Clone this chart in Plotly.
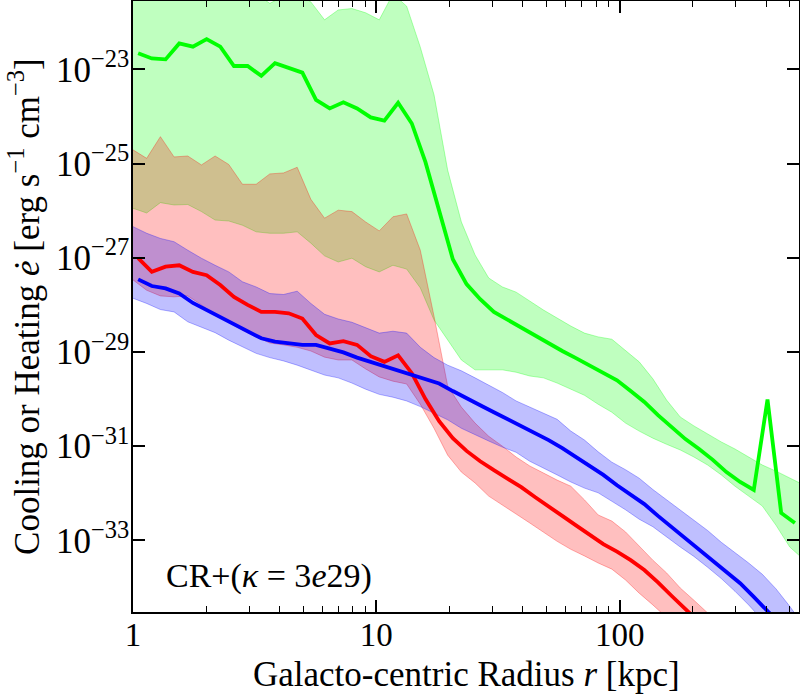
import plotly.graph_objects as go

# radial bins [kpc]: profile lines sit at bin centres, shaded bands at bin edges
r_line = [1.05, 1.195, 1.361, 1.549, 1.763, 2.007, 2.284, 2.599, 2.958, 3.367,
          3.833, 4.363, 4.965, 5.651, 6.432, 7.322, 8.334, 9.486, 10.79, 12.29,
          13.99, 15.92, 18.12, 20.62, 23.48, 26.72, 30.41, 34.62, 39.41, 44.85,
          51.05, 58.11, 66.14, 75.27, 85.68, 97.52, 111.0, 126.3, 143.7, 163.7,
          186.3, 212.0, 241.4, 274.7, 312.7, 355.8, 405.1, 461.2, 525.0]
r_band = [1.000, 1.138, 1.296, 1.475, 1.679, 1.911, 2.175, 2.475, 2.817, 3.207,
          3.650, 4.155, 4.729, 5.382, 6.126, 6.973, 7.937, 9.034, 10.28, 11.70,
          13.32, 15.16, 17.26, 19.64, 22.36, 25.45, 28.96, 32.97, 37.53, 42.71,
          48.62, 55.34, 62.99, 71.69, 81.60, 92.88, 105.7, 120.3, 136.9, 155.9,
          177.4, 201.9, 229.9, 261.6, 297.8, 338.9, 385.8, 439.2, 500.0, 569.0]

# log10 of e-dot [erg s^-1 cm^-3]
green_mid = [-22.66, -22.77, -22.79, -22.45, -22.52, -22.36, -22.52, -22.93, -22.93, -23.14,
             -22.87, -22.98, -23.07, -23.65, -23.83, -23.70, -23.83, -24.02, -24.09, -23.71,
             -24.15, -24.97, -26.03, -27.03, -27.56, -27.88, -28.15, -28.32, -28.48, -28.64,
             -28.83, -28.98, -29.13, -29.28, -29.43, -29.60, -29.83, -30.06, -30.34, -30.59,
             -30.85, -31.06, -31.29, -31.55, -31.76, -31.93, -30.01, -32.42, -32.63]
green_hi = [-21.0, -21.1, -20.9, -21.0, -21.0, -20.9, -21.1, -21.2, -21.3, -21.4,
            -21.60, -21.45, -21.40, -21.57, -21.95, -21.74, -21.71, -21.80, -21.95, -21.40,
            -21.66, -22.53, -23.54, -25.14, -26.24, -26.94, -27.43, -27.62, -27.73, -27.92,
            -28.11, -28.28, -28.45, -28.60, -28.68, -28.73, -28.96, -29.21, -29.57, -30.02,
            -30.38, -30.57, -30.74, -30.91, -31.06, -31.23, -31.40, -31.53, -31.68, -31.82]
green_lo = [-25.95, -26.05, -25.83, -25.88, -25.87, -26.02, -26.20, -26.22, -26.31, -26.45,
            -26.48, -26.48, -26.45, -26.69, -26.96, -27.09, -27.01, -27.19, -27.30, -27.16,
            -27.24, -27.64, -28.32, -28.75, -29.17, -29.38, -29.38, -29.38, -29.43, -29.51,
            -29.55, -29.66, -29.79, -29.92, -30.11, -30.28, -30.51, -30.68, -30.83, -30.96,
            -31.08, -31.23, -31.40, -31.61, -31.85, -32.06, -32.27, -32.68, -33.14, -33.40]

red_mid = [-27.01, -27.30, -27.19, -27.16, -27.30, -27.37, -27.58, -27.83, -28.00, -28.15,
           -28.15, -28.18, -28.29, -28.64, -28.82, -28.77, -28.85, -29.09, -29.21, -29.07,
           -29.45, -30.00, -30.47, -30.83, -31.10, -31.32, -31.51, -31.68, -31.87, -32.08,
           -32.29, -32.48, -32.68, -32.89, -33.08, -33.24, -33.42, -33.63, -33.89, -34.18,
           -34.46, -34.74, -35.02, -35.29, -35.57, -35.85, -36.12, -36.40, -36.68]
red_hi = [-24.71, -24.89, -24.43, -24.86, -24.84, -25.03, -24.84, -25.02, -25.44, -25.44,
          -25.22, -25.20, -25.08, -25.76, -26.16, -25.99, -26.02, -26.24, -26.43, -26.13,
          -26.07, -26.84, -28.24, -29.72, -30.17, -30.51, -30.79, -31.00, -31.23, -31.42,
          -31.57, -31.72, -31.85, -32.14, -32.46, -32.59, -32.82, -33.12, -33.42, -33.69,
          -34.01, -34.27, -34.54, -34.84, -35.13, -35.43, -35.73, -36.03, -36.33, -36.63]
red_lo = [-27.47, -27.69, -27.81, -27.83, -27.81, -28.00, -28.22, -28.37, -28.54, -28.68,
          -28.81, -28.85, -28.90, -28.98, -29.11, -29.17, -29.17, -29.36, -29.53, -29.62,
          -29.68, -30.11, -30.62, -31.19, -31.55, -31.78, -32.06, -32.25, -32.44, -32.63,
          -32.82, -33.02, -33.19, -33.33, -33.48, -33.61, -33.84, -34.12, -34.37, -34.63,
          -34.90, -35.17, -35.45, -35.73, -36.00, -36.28, -36.55, -36.83, -37.10, -37.38]

blue_mid = [-27.46, -27.60, -27.65, -27.76, -27.96, -28.11, -28.25, -28.39, -28.54, -28.71,
            -28.78, -28.82, -28.85, -28.85, -28.92, -29.01, -29.12, -29.21, -29.31, -29.38,
            -29.47, -29.57, -29.67, -29.83, -29.99, -30.13, -30.28, -30.43, -30.57, -30.71,
            -30.87, -31.04, -31.23, -31.42, -31.61, -31.83, -32.02, -32.23, -32.48, -32.72,
            -32.94, -33.19, -33.43, -33.67, -33.91, -34.20, -34.50, -34.80, -35.10]
blue_hi = [-26.34, -26.48, -26.59, -26.66, -26.84, -27.01, -27.16, -27.30, -27.51, -27.62,
           -27.76, -27.78, -27.71, -27.97, -28.20, -28.30, -28.37, -28.49, -28.60, -28.56,
           -28.60, -28.90, -29.12, -29.28, -29.40, -29.55, -29.70, -29.86, -30.04, -30.17,
           -30.30, -30.43, -30.68, -30.87, -31.12, -31.34, -31.50, -31.68, -31.92, -32.14,
           -32.36, -32.57, -32.79, -33.04, -33.26, -33.48, -33.72, -34.03, -34.40, -34.80]
blue_lo = [-27.86, -27.97, -28.10, -28.15, -28.36, -28.47, -28.59, -28.75, -28.89, -29.03,
           -29.12, -29.19, -29.28, -29.38, -29.49, -29.55, -29.66, -29.79, -29.90, -29.96,
           -30.04, -30.16, -30.30, -30.44, -30.62, -30.75, -30.89, -31.02, -31.13, -31.32,
           -31.47, -31.61, -31.76, -31.89, -31.99, -32.17, -32.35, -32.55, -32.71, -32.92,
           -33.14, -33.34, -33.57, -33.81, -34.08, -34.37, -34.69, -35.01, -35.33, -35.65]

y_ticks = [-23, -25, -27, -29, -31, -33]
x_ticks = [1, 10, 100]
x_minor = [2, 3, 4, 5, 6, 7, 8, 9, 20, 30, 40, 50, 60, 70, 80, 90, 200, 300, 400, 500]

FONT = "Liberation Serif"


def lin(vals):
    return [10 ** v for v in vals]


fig = go.Figure()

# bands first (green, red, blue) so the overlaps mix like the original
for hi, lo, rgb in [(green_hi, green_lo, "0,255,0"),
                    (red_hi, red_lo, "255,0,0"),
                    (blue_hi, blue_lo, "0,0,255")]:
    fig.add_trace(go.Scatter(
        x=r_band + r_band[::-1],
        y=lin(hi) + lin(lo)[::-1],
        fill="toself",
        fillcolor="rgba(%s,0.25)" % rgb,
        line=dict(color="rgba(%s,0.3)" % rgb, width=1),
        mode="lines",
        hoverinfo="skip",
        showlegend=False,
    ))

for mid, col in [(green_mid, "#00ff00"), (red_mid, "#ff0000"), (blue_mid, "#0000ff")]:
    fig.add_trace(go.Scatter(x=r_line, y=lin(mid), mode="lines",
                             line=dict(color=col, width=3.8), showlegend=False))

fig.add_annotation(text="CR+(<i>κ</i> = 3<i>e</i>29)", xref="paper", yref="paper",
                   x=0.046, y=0.059, xanchor="left", yanchor="middle",
                   showarrow=False, font=dict(family=FONT, size=34, color="black"))

# axis titles placed as annotations so they sit where the original has them
fig.add_annotation(text="Galacto-centric Radius <i>r</i> [kpc]", xref="paper", yref="paper",
                   x=0.5, y=-0.103, xanchor="center", yanchor="middle",
                   showarrow=False, font=dict(family=FONT, size=35, color="black"))
fig.add_annotation(text="Cooling or Heating <i>\u0117</i> [erg s<sup>\u22121</sup> cm<sup>\u22123</sup>]",
                   xref="paper", yref="paper", x=-0.163, y=0.5, textangle=-90,
                   xanchor="center", yanchor="middle",
                   showarrow=False, font=dict(family=FONT, size=35, color="black"))

fig.update_xaxes(
    type="log", range=[0, 2.737], automargin=False,
    tickvals=x_ticks, ticktext=[str(v) for v in x_ticks],
    ticks="inside", ticklen=12, tickwidth=1.5, tickcolor="black",
    ticklabelstandoff=-7,
    minor=dict(ticks="inside", ticklen=6, tickwidth=1.2, tickcolor="black",
               tickvals=x_minor, showgrid=False),
    showline=True, linecolor="black", linewidth=1.5, mirror="allticks",
    showgrid=False, zeroline=False,
    tickfont=dict(family=FONT, size=33, color="black"),
)
fig.update_yaxes(
    type="log", range=[-34.52, -21.55], automargin=False,
    tickvals=[10.0 ** v for v in y_ticks],
    ticktext=["10<sup>\u2212%d</sup>" % -v for v in y_ticks],
    ticks="inside", ticklen=12, tickwidth=1.5, tickcolor="black",
    ticklabelstandoff=-5,
    showline=True, linecolor="black", linewidth=1.5, mirror="allticks",
    showgrid=False, zeroline=False,
    tickfont=dict(family=FONT, size=35, color="black"),
)

fig.update_layout(
    width=800, height=694,
    margin=dict(l=133, r=1, t=1, b=82),
    plot_bgcolor="white", paper_bgcolor="white",
    font=dict(family=FONT, color="black"),
)

# the page body keeps its default 8px margin otherwise, which shifts and crops the figure
fig.write_html("out.html", config={"displayModeBar": False},
               post_script="document.body.style.margin='0';document.body.style.overflow='hidden';")
